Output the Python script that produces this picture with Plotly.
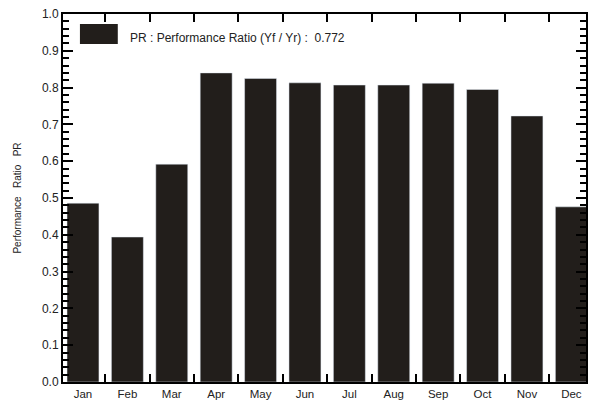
import plotly.graph_objects as go
from plotly.subplots import make_subplots

# Monthly performance ratio
months = ["Jan", "Feb", "Mar", "Apr", "May", "Jun",
          "Jul", "Aug", "Sep", "Oct", "Nov", "Dec"]
pr_values = [0.486, 0.394, 0.592, 0.840, 0.825, 0.813,
             0.807, 0.807, 0.812, 0.795, 0.723, 0.476]
pr_annual = 0.772
legend_label = "PR : Performance Ratio (Yf / Yr) :  " + f"{pr_annual:.3f}"

BAR_COLOR = "#221e1b"
AXIS_COLOR = "black"
FONT = "Liberation Sans, Arial, sans-serif"

fig = make_subplots(rows=1, cols=1)
fig.add_trace(go.Bar(
    x=months,
    y=pr_values,
    marker_color=BAR_COLOR,
    showlegend=False,
), row=1, col=1)

# Legend swatch and label drawn inside the plot frame
fig.add_shape(type="rect", xref="paper", yref="paper",
              x0=17 / 525, x1=55 / 525, y0=1 - 30 / 368, y1=1 - 10 / 368,
              fillcolor=BAR_COLOR, line=dict(width=0))
fig.add_annotation(text=legend_label, xref="paper", yref="paper",
                   x=65 / 525, y=1 - 24 / 368, xanchor="left", yanchor="middle",
                   showarrow=False, font=dict(family=FONT, size=12, color="#222"))

# Month axis: ticks sit on the boundaries between months
fig.update_xaxes(
    type="category",
    range=[-0.45, 11.33],
    tickson="boundaries",
    ticks="inside", ticklen=8, tickwidth=2, tickcolor=AXIS_COLOR,
    showline=True, linewidth=2, linecolor=AXIS_COLOR, mirror="allticks",
    showgrid=False, zeroline=False,
    tickfont=dict(family=FONT, size=11.5, color="#222"),
    row=1, col=1,
)

# Ratio axis with major and minor ticks, mirrored on the right edge
fig.update_yaxes(
    range=[0, 1.0],
    tickmode="linear", dtick=0.1, tick0=0, tickformat=".1f",
    ticks="inside", ticklen=10, tickwidth=2, tickcolor=AXIS_COLOR,
    minor=dict(dtick=0.02, tick0=0, ticks="inside", ticklen=6,
               tickwidth=1.5, tickcolor=AXIS_COLOR, showgrid=False),
    showline=True, linewidth=2, linecolor=AXIS_COLOR, mirror="allticks",
    showgrid=False, zeroline=False,
    tickfont=dict(family=FONT, size=12, color="#222"),
    title=dict(text="Performance   Ratio   PR", standoff=18,
               font=dict(family=FONT, size=10, color="#222")),
    row=1, col=1,
)

fig.update_layout(
    width=592, height=405,
    margin=dict(l=63, r=4, t=14, b=23),
    paper_bgcolor="white", plot_bgcolor="white",
    bargap=0.28,
    font=dict(family=FONT, size=11, color="#222"),
)

fig.write_html("out.html")
